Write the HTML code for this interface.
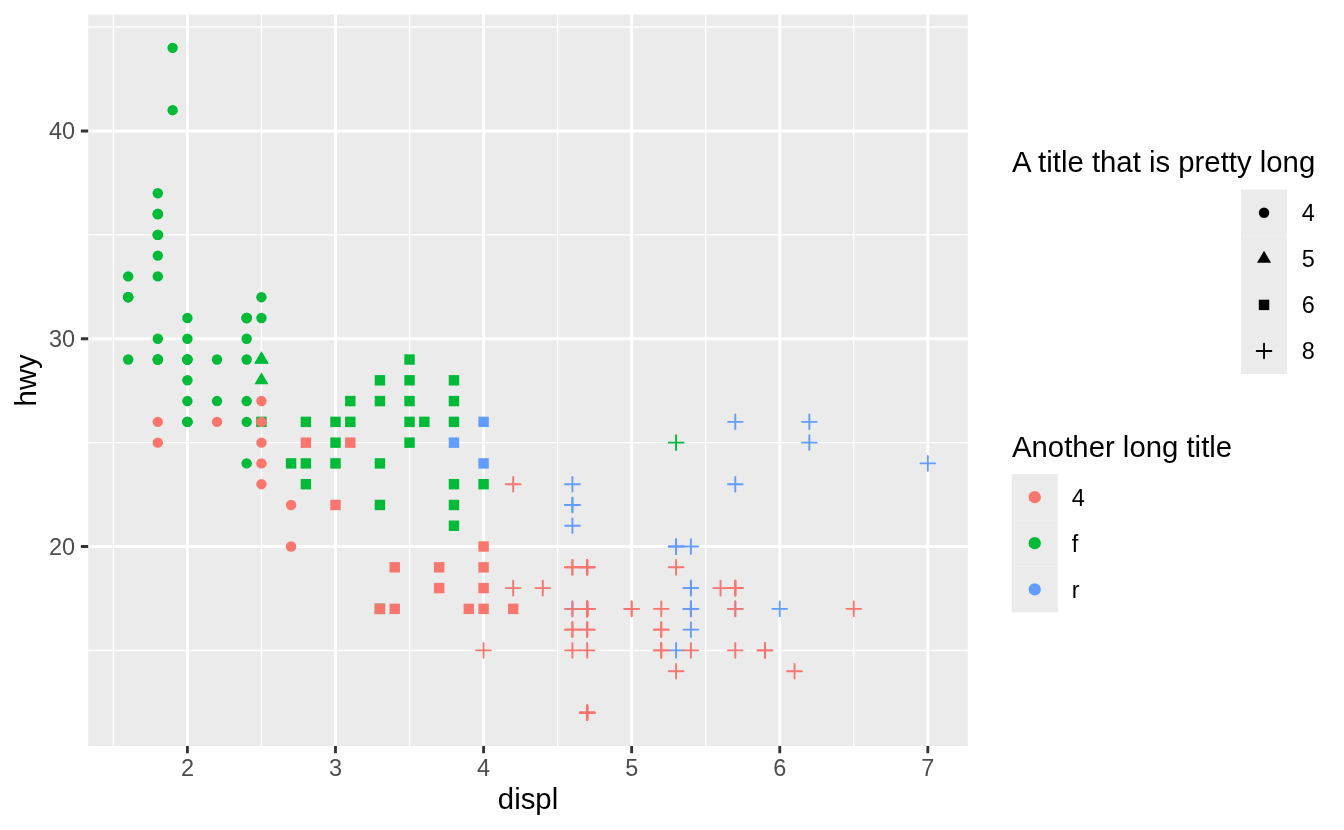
<!DOCTYPE html>
<html><head><meta charset="utf-8"><style>
html,body{margin:0;padding:0;background:#fff;}
svg{display:block;will-change:transform;font-family:"Liberation Sans",sans-serif;}

</style></head><body>
<svg width="1344" height="830" viewBox="0 0 1344 830">
<rect width="1344" height="830" fill="#FFFFFF"/>
<rect x="88.2" y="14.6" width="879.60" height="731.40" fill="#EBEBEB"/>
<path d="M113.37 14.6V746.0M261.45 14.6V746.0M409.54 14.6V746.0M557.62 14.6V746.0M705.70 14.6V746.0M853.78 14.6V746.0M88.2 650.42H967.8M88.2 442.64H967.8M88.2 234.85H967.8M88.2 27.07H967.8" stroke="#FFFFFF" stroke-width="1.42" fill="none"/>
<path d="M187.41 14.6V746.0M335.49 14.6V746.0M483.58 14.6V746.0M631.66 14.6V746.0M779.74 14.6V746.0M927.82 14.6V746.0M88.2 546.53H967.8M88.2 338.74H967.8M88.2 130.96H967.8" stroke="#FFFFFF" stroke-width="2.845" fill="none"/>
<circle cx="172.61" cy="47.85" r="5.21" fill="#00BA38"/>
<circle cx="172.61" cy="110.18" r="5.21" fill="#00BA38"/>
<circle cx="157.80" cy="193.29" r="5.21" fill="#00BA38"/>
<circle cx="157.80" cy="214.07" r="5.21" fill="#00BA38"/>
<circle cx="157.80" cy="214.07" r="5.21" fill="#00BA38"/>
<circle cx="157.80" cy="214.07" r="5.21" fill="#00BA38"/>
<circle cx="157.80" cy="234.85" r="5.21" fill="#00BA38"/>
<circle cx="157.80" cy="234.85" r="5.21" fill="#00BA38"/>
<circle cx="157.80" cy="234.85" r="5.21" fill="#00BA38"/>
<circle cx="157.80" cy="255.63" r="5.21" fill="#00BA38"/>
<circle cx="157.80" cy="276.41" r="5.21" fill="#00BA38"/>
<circle cx="128.18" cy="276.41" r="5.21" fill="#00BA38"/>
<circle cx="128.18" cy="297.19" r="5.21" fill="#00BA38"/>
<circle cx="128.18" cy="297.19" r="5.21" fill="#00BA38"/>
<circle cx="128.18" cy="297.19" r="5.21" fill="#00BA38"/>
<circle cx="261.45" cy="297.19" r="5.21" fill="#00BA38"/>
<circle cx="187.41" cy="317.96" r="5.21" fill="#00BA38"/>
<circle cx="246.65" cy="317.96" r="5.21" fill="#00BA38"/>
<circle cx="246.65" cy="317.96" r="5.21" fill="#00BA38"/>
<circle cx="246.65" cy="317.96" r="5.21" fill="#00BA38"/>
<circle cx="261.45" cy="317.96" r="5.21" fill="#00BA38"/>
<circle cx="157.80" cy="338.74" r="5.21" fill="#00BA38"/>
<circle cx="187.41" cy="338.74" r="5.21" fill="#00BA38"/>
<circle cx="246.65" cy="338.74" r="5.21" fill="#00BA38"/>
<circle cx="128.18" cy="359.52" r="5.21" fill="#00BA38"/>
<circle cx="157.80" cy="359.52" r="5.21" fill="#00BA38"/>
<circle cx="157.80" cy="359.52" r="5.21" fill="#00BA38"/>
<circle cx="157.80" cy="359.52" r="5.21" fill="#00BA38"/>
<circle cx="187.41" cy="359.52" r="5.21" fill="#00BA38"/>
<circle cx="187.41" cy="359.52" r="5.21" fill="#00BA38"/>
<circle cx="187.41" cy="359.52" r="5.21" fill="#00BA38"/>
<circle cx="217.03" cy="359.52" r="5.21" fill="#00BA38"/>
<circle cx="246.65" cy="359.52" r="5.21" fill="#00BA38"/>
<circle cx="187.41" cy="380.30" r="5.21" fill="#00BA38"/>
<circle cx="187.41" cy="401.08" r="5.21" fill="#00BA38"/>
<circle cx="217.03" cy="401.08" r="5.21" fill="#00BA38"/>
<circle cx="246.65" cy="401.08" r="5.21" fill="#00BA38"/>
<circle cx="187.41" cy="421.86" r="5.21" fill="#00BA38"/>
<circle cx="187.41" cy="421.86" r="5.21" fill="#00BA38"/>
<circle cx="187.41" cy="421.86" r="5.21" fill="#00BA38"/>
<circle cx="246.65" cy="421.86" r="5.21" fill="#00BA38"/>
<circle cx="246.65" cy="463.41" r="5.21" fill="#00BA38"/>
<polygon points="261.45,351.42 268.47,363.57 254.44,363.57" fill="#00BA38"/>
<polygon points="261.45,351.42 268.47,363.57 254.44,363.57" fill="#00BA38"/>
<polygon points="261.45,351.42 268.47,363.57 254.44,363.57" fill="#00BA38"/>
<polygon points="261.45,372.20 268.47,384.35 254.44,384.35" fill="#00BA38"/>
<rect x="256.24" y="416.65" width="10.42" height="10.42" fill="#00BA38"/>
<rect x="300.67" y="416.65" width="10.42" height="10.42" fill="#00BA38"/>
<rect x="285.86" y="458.20" width="10.42" height="10.42" fill="#00BA38"/>
<rect x="300.67" y="458.20" width="10.42" height="10.42" fill="#00BA38"/>
<rect x="300.67" y="478.98" width="10.42" height="10.42" fill="#00BA38"/>
<rect x="404.33" y="354.31" width="10.42" height="10.42" fill="#00BA38"/>
<rect x="374.71" y="375.09" width="10.42" height="10.42" fill="#00BA38"/>
<rect x="404.33" y="375.09" width="10.42" height="10.42" fill="#00BA38"/>
<rect x="448.75" y="375.09" width="10.42" height="10.42" fill="#00BA38"/>
<rect x="345.09" y="395.87" width="10.42" height="10.42" fill="#00BA38"/>
<rect x="374.71" y="395.87" width="10.42" height="10.42" fill="#00BA38"/>
<rect x="404.33" y="395.87" width="10.42" height="10.42" fill="#00BA38"/>
<rect x="448.75" y="395.87" width="10.42" height="10.42" fill="#00BA38"/>
<rect x="330.28" y="416.65" width="10.42" height="10.42" fill="#00BA38"/>
<rect x="345.09" y="416.65" width="10.42" height="10.42" fill="#00BA38"/>
<rect x="404.33" y="416.65" width="10.42" height="10.42" fill="#00BA38"/>
<rect x="419.13" y="416.65" width="10.42" height="10.42" fill="#00BA38"/>
<rect x="448.75" y="416.65" width="10.42" height="10.42" fill="#00BA38"/>
<rect x="330.28" y="437.43" width="10.42" height="10.42" fill="#00BA38"/>
<rect x="404.33" y="437.43" width="10.42" height="10.42" fill="#00BA38"/>
<rect x="330.28" y="458.20" width="10.42" height="10.42" fill="#00BA38"/>
<rect x="374.71" y="458.20" width="10.42" height="10.42" fill="#00BA38"/>
<rect x="448.75" y="478.98" width="10.42" height="10.42" fill="#00BA38"/>
<rect x="478.37" y="478.98" width="10.42" height="10.42" fill="#00BA38"/>
<rect x="374.71" y="499.76" width="10.42" height="10.42" fill="#00BA38"/>
<rect x="448.75" y="499.76" width="10.42" height="10.42" fill="#00BA38"/>
<rect x="448.75" y="520.54" width="10.42" height="10.42" fill="#00BA38"/>
<rect x="374.71" y="603.65" width="10.42" height="10.42" fill="#00BA38"/>
<rect x="478.37" y="416.65" width="10.42" height="10.42" fill="#619CFF"/>
<rect x="448.75" y="437.43" width="10.42" height="10.42" fill="#619CFF"/>
<rect x="478.37" y="458.20" width="10.42" height="10.42" fill="#619CFF"/>
<path d="M565.06 484.19H579.79M572.42 476.82V491.56" stroke="#619CFF" stroke-width="1.89" stroke-linecap="round" fill="none"/>
<path d="M565.06 504.97H579.79M572.42 497.60V512.34" stroke="#619CFF" stroke-width="1.89" stroke-linecap="round" fill="none"/>
<path d="M565.06 525.75H579.79M572.42 518.38V533.12" stroke="#619CFF" stroke-width="1.89" stroke-linecap="round" fill="none"/>
<path d="M668.71 650.42H683.45M676.08 643.05V657.79" stroke="#619CFF" stroke-width="1.89" stroke-linecap="round" fill="none"/>
<path d="M668.71 546.53H683.45M676.08 539.16V553.90" stroke="#619CFF" stroke-width="1.89" stroke-linecap="round" fill="none"/>
<path d="M683.52 546.53H698.26M690.89 539.16V553.90" stroke="#619CFF" stroke-width="1.89" stroke-linecap="round" fill="none"/>
<path d="M683.52 588.08H698.26M690.89 580.72V595.45" stroke="#619CFF" stroke-width="1.89" stroke-linecap="round" fill="none"/>
<path d="M683.52 629.64H698.26M690.89 622.27V637.01" stroke="#619CFF" stroke-width="1.89" stroke-linecap="round" fill="none"/>
<path d="M727.95 421.86H742.68M735.31 414.49V429.22" stroke="#619CFF" stroke-width="1.89" stroke-linecap="round" fill="none"/>
<path d="M727.95 484.19H742.68M735.31 476.82V491.56" stroke="#619CFF" stroke-width="1.89" stroke-linecap="round" fill="none"/>
<path d="M801.99 421.86H816.72M809.35 414.49V429.22" stroke="#619CFF" stroke-width="1.89" stroke-linecap="round" fill="none"/>
<path d="M801.99 442.64H816.72M809.35 435.27V450.00" stroke="#619CFF" stroke-width="1.89" stroke-linecap="round" fill="none"/>
<path d="M772.37 608.86H787.11M779.74 601.49V616.23" stroke="#619CFF" stroke-width="1.89" stroke-linecap="round" fill="none"/>
<path d="M920.45 463.41H935.19M927.82 456.05V470.78" stroke="#619CFF" stroke-width="1.89" stroke-linecap="round" fill="none"/>
<path d="M565.06 608.86H579.79M572.42 601.49V616.23" stroke="#619CFF" stroke-width="1.89" stroke-linecap="round" fill="none"/>
<path d="M727.95 608.86H742.68M735.31 601.49V616.23" stroke="#619CFF" stroke-width="1.89" stroke-linecap="round" fill="none"/>
<path d="M668.71 442.64H683.45M676.08 435.27V450.00" stroke="#00BA38" stroke-width="1.89" stroke-linecap="round" fill="none"/>
<circle cx="261.45" cy="401.08" r="5.21" fill="#F8766D"/>
<circle cx="157.80" cy="421.86" r="5.21" fill="#F8766D"/>
<circle cx="217.03" cy="421.86" r="5.21" fill="#F8766D"/>
<circle cx="261.45" cy="421.86" r="5.21" fill="#F8766D"/>
<circle cx="157.80" cy="442.64" r="5.21" fill="#F8766D"/>
<circle cx="261.45" cy="442.64" r="5.21" fill="#F8766D"/>
<circle cx="261.45" cy="463.41" r="5.21" fill="#F8766D"/>
<circle cx="261.45" cy="484.19" r="5.21" fill="#F8766D"/>
<circle cx="291.07" cy="504.97" r="5.21" fill="#F8766D"/>
<circle cx="291.07" cy="546.53" r="5.21" fill="#F8766D"/>
<rect x="300.67" y="437.43" width="10.42" height="10.42" fill="#F8766D"/>
<rect x="345.09" y="437.43" width="10.42" height="10.42" fill="#F8766D"/>
<rect x="330.28" y="499.76" width="10.42" height="10.42" fill="#F8766D"/>
<rect x="478.37" y="541.32" width="10.42" height="10.42" fill="#F8766D"/>
<rect x="389.52" y="562.10" width="10.42" height="10.42" fill="#F8766D"/>
<rect x="433.94" y="562.10" width="10.42" height="10.42" fill="#F8766D"/>
<rect x="478.37" y="562.10" width="10.42" height="10.42" fill="#F8766D"/>
<rect x="433.94" y="582.87" width="10.42" height="10.42" fill="#F8766D"/>
<rect x="478.37" y="582.87" width="10.42" height="10.42" fill="#F8766D"/>
<rect x="374.71" y="603.65" width="10.42" height="10.42" fill="#F8766D"/>
<rect x="389.52" y="603.65" width="10.42" height="10.42" fill="#F8766D"/>
<rect x="463.56" y="603.65" width="10.42" height="10.42" fill="#F8766D"/>
<rect x="478.37" y="603.65" width="10.42" height="10.42" fill="#F8766D"/>
<rect x="507.98" y="603.65" width="10.42" height="10.42" fill="#F8766D"/>
<path d="M505.82 484.19H520.56M513.19 476.82V491.56" stroke="#F8766D" stroke-width="1.89" stroke-linecap="round" fill="none"/>
<path d="M505.82 588.08H520.56M513.19 580.72V595.45" stroke="#F8766D" stroke-width="1.89" stroke-linecap="round" fill="none"/>
<path d="M535.44 588.08H550.18M542.81 580.72V595.45" stroke="#F8766D" stroke-width="1.89" stroke-linecap="round" fill="none"/>
<path d="M565.06 567.31H579.79M572.42 559.94V574.67" stroke="#F8766D" stroke-width="1.89" stroke-linecap="round" fill="none"/>
<path d="M579.86 567.31H594.60M587.23 559.94V574.67" stroke="#F8766D" stroke-width="1.89" stroke-linecap="round" fill="none"/>
<path d="M565.06 608.86H579.79M572.42 601.49V616.23" stroke="#F8766D" stroke-width="1.89" stroke-linecap="round" fill="none"/>
<path d="M579.86 608.86H594.60M587.23 601.49V616.23" stroke="#F8766D" stroke-width="1.89" stroke-linecap="round" fill="none"/>
<path d="M565.06 629.64H579.79M572.42 622.27V637.01" stroke="#F8766D" stroke-width="1.89" stroke-linecap="round" fill="none"/>
<path d="M579.86 629.64H594.60M587.23 622.27V637.01" stroke="#F8766D" stroke-width="1.89" stroke-linecap="round" fill="none"/>
<path d="M565.06 650.42H579.79M572.42 643.05V657.79" stroke="#F8766D" stroke-width="1.89" stroke-linecap="round" fill="none"/>
<path d="M579.86 650.42H594.60M587.23 643.05V657.79" stroke="#F8766D" stroke-width="1.89" stroke-linecap="round" fill="none"/>
<path d="M476.21 650.42H490.94M483.58 643.05V657.79" stroke="#F8766D" stroke-width="1.89" stroke-linecap="round" fill="none"/>
<path d="M624.29 608.86H639.02M631.66 601.49V616.23" stroke="#F8766D" stroke-width="1.89" stroke-linecap="round" fill="none"/>
<path d="M653.90 608.86H668.64M661.27 601.49V616.23" stroke="#F8766D" stroke-width="1.89" stroke-linecap="round" fill="none"/>
<path d="M653.90 629.64H668.64M661.27 622.27V637.01" stroke="#F8766D" stroke-width="1.89" stroke-linecap="round" fill="none"/>
<path d="M653.90 650.42H668.64M661.27 643.05V657.79" stroke="#F8766D" stroke-width="1.89" stroke-linecap="round" fill="none"/>
<path d="M668.71 567.31H683.45M676.08 559.94V574.67" stroke="#F8766D" stroke-width="1.89" stroke-linecap="round" fill="none"/>
<path d="M683.52 650.42H698.26M690.89 643.05V657.79" stroke="#F8766D" stroke-width="1.89" stroke-linecap="round" fill="none"/>
<path d="M713.14 588.08H727.87M720.51 580.72V595.45" stroke="#F8766D" stroke-width="1.89" stroke-linecap="round" fill="none"/>
<path d="M727.95 588.08H742.68M735.31 580.72V595.45" stroke="#F8766D" stroke-width="1.89" stroke-linecap="round" fill="none"/>
<path d="M727.95 608.86H742.68M735.31 601.49V616.23" stroke="#F8766D" stroke-width="1.89" stroke-linecap="round" fill="none"/>
<path d="M846.41 608.86H861.15M853.78 601.49V616.23" stroke="#F8766D" stroke-width="1.89" stroke-linecap="round" fill="none"/>
<path d="M727.95 650.42H742.68M735.31 643.05V657.79" stroke="#F8766D" stroke-width="1.89" stroke-linecap="round" fill="none"/>
<path d="M757.56 650.42H772.30M764.93 643.05V657.79" stroke="#F8766D" stroke-width="1.89" stroke-linecap="round" fill="none"/>
<path d="M668.71 671.20H683.45M676.08 663.83V678.57" stroke="#F8766D" stroke-width="1.89" stroke-linecap="round" fill="none"/>
<path d="M787.18 671.20H801.91M794.55 663.83V678.57" stroke="#F8766D" stroke-width="1.89" stroke-linecap="round" fill="none"/>
<path d="M579.86 712.75H594.60M587.23 705.39V720.12" stroke="#F8766D" stroke-width="1.89" stroke-linecap="round" fill="none"/>
<path d="M683.52 608.86H698.26M690.89 601.49V616.23" stroke="#F8766D" stroke-width="1.89" stroke-linecap="round" fill="none"/>
<path d="M683.52 608.86H698.26M690.89 601.49V616.23" stroke="#619CFF" stroke-width="1.89" stroke-linecap="round" fill="none"/>
<path d="M579.86 712.75H594.60M587.23 705.39V720.12" stroke="#F8766D" stroke-width="1.89" stroke-linecap="round" fill="none"/>
<path d="M579.86 712.75H594.60M587.23 705.39V720.12" stroke="#F8766D" stroke-width="1.89" stroke-linecap="round" fill="none"/>
<path d="M579.86 712.75H594.60M587.23 705.39V720.12" stroke="#F8766D" stroke-width="1.89" stroke-linecap="round" fill="none"/>
<path d="M579.86 712.75H594.60M587.23 705.39V720.12" stroke="#F8766D" stroke-width="1.89" stroke-linecap="round" fill="none"/>
<path d="M579.86 608.86H594.60M587.23 601.49V616.23" stroke="#F8766D" stroke-width="1.89" stroke-linecap="round" fill="none"/>
<path d="M579.86 608.86H594.60M587.23 601.49V616.23" stroke="#F8766D" stroke-width="1.89" stroke-linecap="round" fill="none"/>
<path d="M579.86 608.86H594.60M587.23 601.49V616.23" stroke="#F8766D" stroke-width="1.89" stroke-linecap="round" fill="none"/>
<path d="M579.86 608.86H594.60M587.23 601.49V616.23" stroke="#F8766D" stroke-width="1.89" stroke-linecap="round" fill="none"/>
<path d="M579.86 608.86H594.60M587.23 601.49V616.23" stroke="#F8766D" stroke-width="1.89" stroke-linecap="round" fill="none"/>
<path d="M579.86 608.86H594.60M587.23 601.49V616.23" stroke="#F8766D" stroke-width="1.89" stroke-linecap="round" fill="none"/>
<path d="M579.86 567.31H594.60M587.23 559.94V574.67" stroke="#F8766D" stroke-width="1.89" stroke-linecap="round" fill="none"/>
<path d="M579.86 567.31H594.60M587.23 559.94V574.67" stroke="#F8766D" stroke-width="1.89" stroke-linecap="round" fill="none"/>
<path d="M579.86 629.64H594.60M587.23 622.27V637.01" stroke="#F8766D" stroke-width="1.89" stroke-linecap="round" fill="none"/>
<path d="M565.06 629.64H579.79M572.42 622.27V637.01" stroke="#F8766D" stroke-width="1.89" stroke-linecap="round" fill="none"/>
<path d="M565.06 567.31H579.79M572.42 559.94V574.67" stroke="#F8766D" stroke-width="1.89" stroke-linecap="round" fill="none"/>
<path d="M653.90 650.42H668.64M661.27 643.05V657.79" stroke="#F8766D" stroke-width="1.89" stroke-linecap="round" fill="none"/>
<path d="M653.90 629.64H668.64M661.27 622.27V637.01" stroke="#F8766D" stroke-width="1.89" stroke-linecap="round" fill="none"/>
<path d="M683.52 588.08H698.26M690.89 580.72V595.45" stroke="#619CFF" stroke-width="1.89" stroke-linecap="round" fill="none"/>
<path d="M727.95 588.08H742.68M735.31 580.72V595.45" stroke="#F8766D" stroke-width="1.89" stroke-linecap="round" fill="none"/>
<path d="M727.95 588.08H742.68M735.31 580.72V595.45" stroke="#F8766D" stroke-width="1.89" stroke-linecap="round" fill="none"/>
<path d="M757.56 650.42H772.30M764.93 643.05V657.79" stroke="#F8766D" stroke-width="1.89" stroke-linecap="round" fill="none"/>
<path d="M668.71 546.53H683.45M676.08 539.16V553.90" stroke="#619CFF" stroke-width="1.89" stroke-linecap="round" fill="none"/>
<path d="M624.29 608.86H639.02M631.66 601.49V616.23" stroke="#F8766D" stroke-width="1.89" stroke-linecap="round" fill="none"/>
<path d="M565.06 504.97H579.79M572.42 497.60V512.34" stroke="#619CFF" stroke-width="1.89" stroke-linecap="round" fill="none"/>
<path d="M683.52 608.86H698.26M690.89 601.49V616.23" stroke="#619CFF" stroke-width="1.89" stroke-linecap="round" fill="none"/>
<path d="M187.41 746.0v7.33M335.49 746.0v7.33M483.58 746.0v7.33M631.66 746.0v7.33M779.74 746.0v7.33M927.82 746.0v7.33M88.2 546.53h-7.33M88.2 338.74h-7.33M88.2 130.96h-7.33" stroke="#333333" stroke-width="2.845" fill="none"/>
<text x="187.41" y="775.8" font-size="23.47" fill="#4D4D4D" text-anchor="middle">2</text>
<text x="335.49" y="775.8" font-size="23.47" fill="#4D4D4D" text-anchor="middle">3</text>
<text x="483.58" y="775.8" font-size="23.47" fill="#4D4D4D" text-anchor="middle">4</text>
<text x="631.66" y="775.8" font-size="23.47" fill="#4D4D4D" text-anchor="middle">5</text>
<text x="779.74" y="775.8" font-size="23.47" fill="#4D4D4D" text-anchor="middle">6</text>
<text x="927.82" y="775.8" font-size="23.47" fill="#4D4D4D" text-anchor="middle">7</text>
<text x="75.0" y="554.93" font-size="23.47" fill="#4D4D4D" text-anchor="end">20</text>
<text x="75.0" y="347.14" font-size="23.47" fill="#4D4D4D" text-anchor="end">30</text>
<text x="75.0" y="139.36" font-size="23.47" fill="#4D4D4D" text-anchor="end">40</text>
<text x="528.00" y="808.8" font-size="29.33" fill="#000" text-anchor="middle">displ</text>
<text transform="translate(35.9 380.30) rotate(-90)" x="0" y="0" font-size="29.33" fill="#000" text-anchor="middle">hwy</text>
<text x="1012.0" y="172.0" font-size="29.33" fill="#000">A title that is pretty long</text>
<rect x="1241.0" y="189.70" width="46.08" height="46.08" fill="#EBEBEB"/>
<circle cx="1264.04" cy="212.74" r="5.21" fill="#000000"/>
<text x="1301.67" y="221.14" font-size="23.47" fill="#000">4</text>
<rect x="1241.0" y="235.78" width="46.08" height="46.08" fill="#EBEBEB"/>
<polygon points="1264.04,250.72 1271.06,262.87 1257.02,262.87" fill="#000000"/>
<text x="1301.67" y="267.22" font-size="23.47" fill="#000">5</text>
<rect x="1241.0" y="281.86" width="46.08" height="46.08" fill="#EBEBEB"/>
<rect x="1258.83" y="299.69" width="10.42" height="10.42" fill="#000000"/>
<text x="1301.67" y="313.30" font-size="23.47" fill="#000">6</text>
<rect x="1241.0" y="327.94" width="46.08" height="46.08" fill="#EBEBEB"/>
<path d="M1256.67 350.98H1271.41M1264.04 343.61V358.35" stroke="#000000" stroke-width="1.89" stroke-linecap="round" fill="none"/>
<text x="1301.67" y="359.38" font-size="23.47" fill="#000">8</text>
<text x="1012.0" y="456.8" font-size="29.33" fill="#000">Another long title</text>
<rect x="1011.7" y="474.10" width="46.08" height="46.08" fill="#EBEBEB"/>
<circle cx="1034.74" cy="497.14" r="5.21" fill="#F8766D" stroke="#F8766D" stroke-width="1.89"/>
<text x="1071.65" y="505.54" font-size="23.47" fill="#000">4</text>
<rect x="1011.7" y="520.18" width="46.08" height="46.08" fill="#EBEBEB"/>
<circle cx="1034.74" cy="543.22" r="5.21" fill="#00BA38" stroke="#00BA38" stroke-width="1.89"/>
<text x="1071.65" y="551.62" font-size="23.47" fill="#000">f</text>
<rect x="1011.7" y="566.26" width="46.08" height="46.08" fill="#EBEBEB"/>
<circle cx="1034.74" cy="589.30" r="5.21" fill="#619CFF" stroke="#619CFF" stroke-width="1.89"/>
<text x="1071.65" y="597.70" font-size="23.47" fill="#000">r</text>
</svg></body></html>
